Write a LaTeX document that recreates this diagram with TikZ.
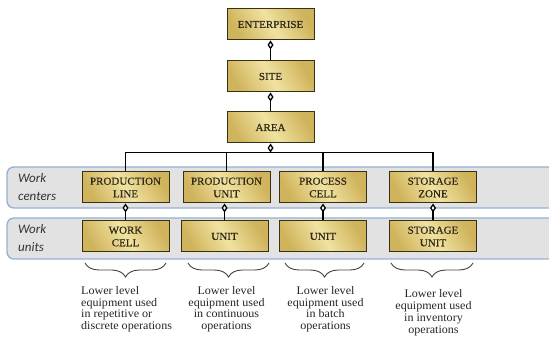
\documentclass[tikz,border=0pt]{standalone}
\usepackage{fontspec}
\setmainfont[FakeStretch=1.04]{Liberation Serif}
\newfontfamily\boxfont[FakeStretch=1.04, FakeBold=0.5]{Liberation Serif}
\newfontfamily\labelfont{Carlito}
\usetikzlibrary{arrows.meta,decorations.pathreplacing}

\definecolor{golddark}{RGB}{208,180,92}
\definecolor{goldlight}{RGB}{240,226,160}
\definecolor{goldedge}{RGB}{55,48,22}
\definecolor{bandfill}{RGB}{226,226,226}
\definecolor{bandline}{RGB}{150,178,212}
\definecolor{inktext}{RGB}{45,40,25}

\tikzset{
  level/.style={draw=goldedge, line width=1pt,
    left color=golddark, right color=golddark, middle color=goldlight,
    shading angle=120,
    minimum width=87pt, minimum height=31pt, inner sep=1pt,
    align=center, text=inktext, font=\boxfont\fontsize{10.6}{12.6}\selectfont},
  band/.style={draw=bandline, line width=1.4pt, fill=bandfill, rounded corners=7pt},
  bandlabel/.style={anchor=west, inner sep=0pt, text=black!80,
    font=\labelfont\itshape\fontsize{13}{15}\selectfont},
  link/.style={line width=1.6pt, black},
  owns/.style={link, -{Diamond[length=9pt, width=6pt, line width=1.3pt, fill=white]}},
  groupbrace/.style={decorate, decoration={brace, mirror, amplitude=14pt},
    line width=0.9pt, black!75},
  note/.style={inner sep=0pt, text=black!85, font=\fontsize{11.6}{11.8}\selectfont}
}

\begin{document}
\begin{tikzpicture}[x=1pt, y=-1pt]
\useasboundingbox (0,0) rectangle (549,344);

% level bands
\draw[band] (7,167) rectangle (560,208);
\draw[band] (7,218) rectangle (560,259);
\node[bandlabel] (wcl1) at (18,178) {Work};
\node[bandlabel] (wcl2) at (18,196) {centers};
\node[bandlabel] (wul1) at (18,229) {Work};
\node[bandlabel] (wul2) at (18,247) {units};

% upper hierarchy
\node[level] (ent)  at (270.5,24.5)  {ENTERPRISE};
\node[level] (site) at (270.5,76.5)  {SITE};
\node[level] (area) at (270.5,127.5) {AREA};

% work centers
\node[level] (pl) at (125.5,187.5) {PRODUCTION\\LINE};
\node[level] (pu) at (226.5,187.5) {PRODUCTION\\UNIT};
\node[level] (pc) at (323,187.5)   {PROCESS\\CELL};
\node[level] (sz) at (433,187.5)   {STORAGE\\ZONE};

% work units
\node[level] (wc) at (125.5,236.5) {WORK\\CELL};
\node[level] (u1) at (224.5,236.5) {UNIT};
\node[level] (u2) at (323,236.5)   {UNIT};
\node[level] (su) at (433,236.5)   {STORAGE\\UNIT};

% containment links
\draw[owns] (site.north) -- (ent.south);
\draw[owns] (area.north) -- (site.south);
\coordinate (bus) at (270.5,152.5);
\draw[link] (pl.north) |- (bus) -| (sz.north);
\draw[link] (pu.north) -- (pu.north |- bus);
\draw[link] (pc.north) -- (pc.north |- bus);
\draw[owns] (bus) -- (area.south);
\draw[owns] (wc.north) -- (pl.south);
\draw[owns] (u1.north) -- (u1.north |- pu.south);
\draw[owns] (u2.north) -- (pc.south);
\draw[owns] (su.north) -- (sz.south);

% braces under the work units
\coordinate (b1a) at (85,263);  \coordinate (b1b) at (166,263);
\coordinate (b2a) at (188,263); \coordinate (b2b) at (269,263);
\coordinate (b3a) at (285,263); \coordinate (b3b) at (364,263);
\coordinate (b4a) at (391,263); \coordinate (b4b) at (473,263);
\draw[groupbrace] (b1a) -- (b1b);
\draw[groupbrace] (b2a) -- (b2b);
\draw[groupbrace] (b3a) -- (b3b);
\draw[groupbrace] (b4a) -- (b4b);

% equipment notes
\node[note, anchor=north west, align=left] (n1) at (81,286)
  {Lower level\\equipment used\\in repetitive or\\discrete operations};
\node[note, anchor=north, align=center] (n2) at (226.5,286)
  {Lower level\\equipment used\\in continuous\\operations};
\node[note, anchor=north, align=center] (n3) at (325.5,286)
  {Lower level\\equipment used\\in batch\\operations};
\node[note, anchor=north, align=center] (n4) at (433.5,289.5)
  {Lower level\\equipment used\\in inventory\\operations};
\end{tikzpicture}
\end{document}
